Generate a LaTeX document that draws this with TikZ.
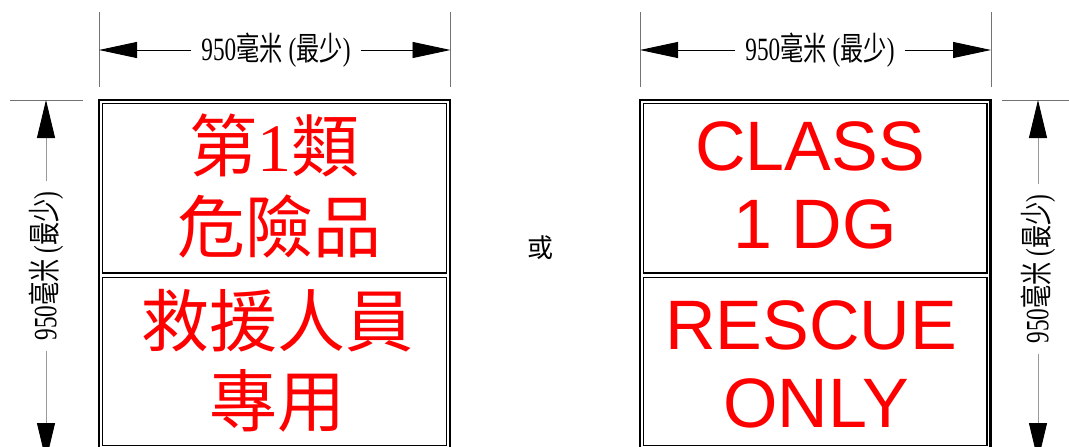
\documentclass[tikz,border=0pt]{standalone}
\usepackage{fontspec}
\usepackage{graphicx}
\setmainfont{Liberation Serif}
\newfontfamily\cjk{Noto Sans CJK TC}
\newfontfamily\arialf{Liberation Sans}
\usetikzlibrary{arrows.meta}
\newcommand\dimlbl{\scalebox{0.93}[1.3]{950{\cjk 毫米} ({\cjk 最少})}}
\tikzset{
  frame/.style={line width=2.2pt},
  signbox/.style={line width=1.4pt},
  dimlabel/.style={inner xsep=10pt, inner ysep=0pt, font=\fontsize{25}{25}\selectfont},
  dimh/.style={line width=0.9pt, -{Triangle[length=38pt,width=16pt]}},
  dimv/.style={line width=0.9pt, draw=black!40, -{Triangle[length=38pt,width=18pt,color=black]}},
  ext/.style={line width=0.6pt, draw=black!55},
  zh/.style={text=red, inner sep=0pt, font=\cjk\fontsize{68}{68}\selectfont},
  en/.style={text=red, inner sep=0pt, font=\arialf\fontsize{70}{70}\selectfont},
}
\begin{document}
\begin{tikzpicture}[x=1pt,y=-1pt]
\useasboundingbox (0,0) rectangle (1069,447);
\clip (0,0) rectangle (1069,447);
% ---------- left sign ----------
\draw[frame] (99.3,100.3) rectangle (450,470);
\draw[signbox] (102.7,103.5) rectangle (446.3,273);
\draw[signbox] (102.7,277.3) rectangle (446.3,445.3);
\node[zh] (l1) at (274,145) {第{\rmfamily 1}類};
\node[zh] (l2) at (279,227) {危險品};
\node[zh] (l3) at (277,321) {救援人員};
\node[zh] (l4) at (277,401) {專用};
% ---------- right sign ----------
\draw[frame] (640.3,100.3) rectangle (990.5,470);
\draw[signbox] (643.7,103.5) rectangle (986.8,273);
\draw[signbox] (643.7,277.3) rectangle (986.8,445.3);
\node[en] (r1) at (810,146) {CLASS};
\node[en] (r2) at (815,224) {1 DG};
\node[en] (r3) at (811,325) {RESCUE};
\node[en] (r4) at (816,403) {ONLY};
% ---------- or ----------
\node[font=\cjk\fontsize{26}{26}\selectfont] (or) at (540,248) {或};
% ---------- left horizontal dimension ----------
\coordinate (lea) at (99,12); \coordinate (leb) at (99,87);
\coordinate (lec) at (450.5,12); \coordinate (led) at (450.5,87);
\draw[ext] (lea) -- (leb);
\draw[ext] (lec) -- (led);
\coordinate (lh1) at (99,50); \coordinate (lh2) at (450.5,50);
\node[dimlabel] (hdL) at (276,50) {\dimlbl};
\draw[dimh] (hdL.west) -- (lh1);
\draw[dimh] (hdL.east) -- (lh2);
% ---------- right horizontal dimension ----------
\coordinate (rea) at (640,12); \coordinate (reb) at (640,87);
\coordinate (rec) at (991,12); \coordinate (red) at (991,87);
\draw[ext] (rea) -- (reb);
\draw[ext] (rec) -- (red);
\coordinate (rh1) at (640,50); \coordinate (rh2) at (991,50);
\node[dimlabel] (hdR) at (820,50) {\dimlbl};
\draw[dimh] (hdR.west) -- (rh1);
\draw[dimh] (hdR.east) -- (rh2);
% ---------- left vertical dimension ----------
\coordinate (lva) at (10,100); \coordinate (lvb) at (83,100);
\draw[ext] (lva) -- (lvb);
\coordinate (lv1) at (46,100); \coordinate (lv2) at (46,461);
\node[dimlabel, rotate=90] (vdL) at (46,266) {\dimlbl};
\draw[dimv] (vdL.east) -- (lv1);
\draw[dimv] (vdL.west) -- (lv2);
% ---------- right vertical dimension ----------
\coordinate (rva) at (1002,100); \coordinate (rvb) at (1069,100);
\draw[ext] (rva) -- (rvb);
\coordinate (rv1) at (1038,100); \coordinate (rv2) at (1038,461);
\node[dimlabel, rotate=90] (vdR) at (1038,269) {\dimlbl};
\draw[dimv] (vdR.east) -- (rv1);
\draw[dimv] (vdR.west) -- (rv2);
\end{tikzpicture}
\end{document}
